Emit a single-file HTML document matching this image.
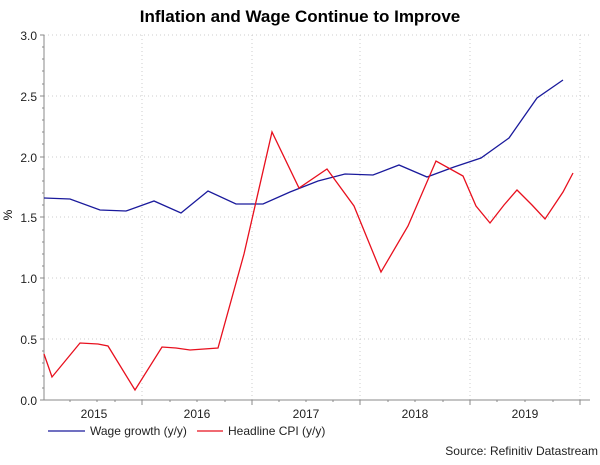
<!DOCTYPE html><html><head><style>body{margin:0;background:#fff}svg text{font-family:"Liberation Sans",sans-serif}</style></head><body>
<svg width="600" height="460" viewBox="0 0 600 460" xmlns="http://www.w3.org/2000/svg">
<text x="300" y="22" text-anchor="middle" font-size="17" font-weight="bold">Inflation and Wage Continue to Improve</text>
<g stroke="#ccc" stroke-dasharray="1,3">
<line x1="44" y1="35" x2="590" y2="35"/><line x1="44" y1="96" x2="590" y2="96"/><line x1="44" y1="157" x2="590" y2="157"/><line x1="44" y1="217" x2="590" y2="217"/><line x1="44" y1="278" x2="590" y2="278"/><line x1="44" y1="339" x2="590" y2="339"/>
<line x1="142" y1="35" x2="142" y2="400"/><line x1="252" y1="35" x2="252" y2="400"/><line x1="360" y1="35" x2="360" y2="400"/><line x1="470" y1="35" x2="470" y2="400"/><line x1="580" y1="35" x2="580" y2="400"/>
</g>
<g stroke="#888" fill="none">
<line x1="44" y1="35" x2="44" y2="400"/><line x1="44" y1="400" x2="590" y2="400"/>
<path d="M40 35h4M40 96h4M40 157h4M40 217h4M40 278h4M40 339h4M40 400h4"/>
<path d="M42 47h2M42 59h2M42 71h2M42 84h2M42 108h2M42 120h2M42 132h2M42 144h2M42 169h2M42 181h2M42 193h2M42 205h2M42 230h2M42 242h2M42 254h2M42 266h2M42 290h2M42 303h2M42 315h2M42 327h2M42 351h2M42 363h2M42 376h2M42 388h2"/>
<path d="M142 400v5M252 400v5M360 400v5M470 400v5M580 400v5M70 400v2M97 400v2M115 400v2M170 400v2M197 400v2M225 400v2M279 400v2M306 400v2M333 400v2M388 400v2M415 400v2M443 400v2M497 400v2M525 400v2M553 400v2"/>
</g>
<g font-size="12" fill="#222" text-anchor="end">
<text x="37" y="40">3.0</text><text x="37" y="101">2.5</text><text x="37" y="162">2.0</text><text x="37" y="222">1.5</text><text x="37" y="283">1.0</text><text x="37" y="344">0.5</text><text x="37" y="405">0.0</text>
</g>
<g font-size="12" fill="#222" text-anchor="middle">
<text x="94" y="418">2015</text><text x="197" y="418">2016</text><text x="306" y="418">2017</text><text x="415" y="418">2018</text><text x="525" y="418">2019</text>
</g>
<text x="12" y="215" font-size="12" transform="rotate(-90 12 215)" text-anchor="middle">%</text>
<polyline fill="none" stroke="#1a1a9c" stroke-width="1.3" points="44,198 70,199 100,210 126,211 154,201 181,213 208,191 236,204 263,204 290,192 318,181 345,174 373,175 399,165 427,177 454,167 481,158 509,138 537,98 563,80"/>
<polyline fill="none" stroke="#e8101e" stroke-width="1.3" points="44,354 52,377 80,343 98,344 108,346 135,390 162,347 176,348 190,350 218,348 244,254 272,132 299,188 327,169 354,206 381,272 408,226 436,161 463,176 476,206 490,223 504,205 517,190 532,205 545,219 563,192 573,173"/>
<line x1="48" y1="431" x2="85" y2="431" stroke="#1a1a9c" stroke-width="1.3"/>
<text x="90" y="435" font-size="12" fill="#222">Wage growth (y/y)</text>
<line x1="197" y1="431" x2="223" y2="431" stroke="#e8101e" stroke-width="1.3"/>
<text x="228" y="435" font-size="12" fill="#222">Headline CPI (y/y)</text>
<text x="598" y="455" font-size="12" fill="#222" text-anchor="end">Source: Refinitiv Datastream</text>
</svg></body></html>
